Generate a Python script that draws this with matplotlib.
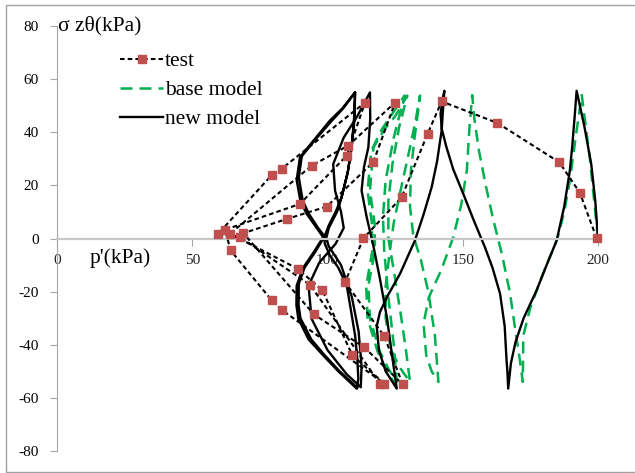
import numpy as np
import matplotlib
matplotlib.use('Agg')
import matplotlib.pyplot as plt
from matplotlib.patches import Rectangle

plt.rcParams['font.family'] = ['Liberation Serif', 'DejaVu Serif']
plt.rcParams['axes.unicode_minus'] = False

# test: p' (kPa) and sigma_z_theta (kPa), in path order
test_p = [199.5, 193.3, 185.7, 162.8, 142.2, 137.0, 127.4, 113.3, 106.5, 121.0, 127.8,
          113.5, 95.0, 68.9, 85.1, 99.7, 116.9, 125.0,
          107.7, 94.1, 64.0, 89.0, 98.1, 109.2, 121.0,
          83.0, 79.4, 64.2, 62.1, 89.8, 107.1, 113.9,
          83.0, 79.4, 59.6, 67.7, 93.5, 119.4]
test_s = [0.1, 17.2, 28.7, 43.5, 51.6, 39.4, 15.5, 0.1, -16.4, -36.8, -54.9,
          -40.9, -28.6, 2.0, 7.4, 12.0, 28.7, 51.2,
          35.0, 27.4, 1.8, -11.4, -19.5, -44.0, -54.6,
          -26.8, -23.3, -4.5, 3.3, 13.0, 31.2, 51.2,
          26.2, 23.9, 1.8, 0.5, -17.4, -54.6]

# base model
base_p = [200, 198.5, 197, 195.5, 194,
          192, 189.6, 187.5, 185, 179, 175, 172.4, 172.2,
          171, 169.5, 167.5, 164.5, 161.3, 158.5, 156, 154.3, 153.5,
          152.5, 151.5, 149.5, 146.5, 142, 137.5, 135.5, 136.5, 138.5, 141,
          139.7, 137.3, 134.5, 131.7, 130.5, 130.8, 132.2, 133.5, 134.2,
          132.5, 130, 127, 124.5, 123, 121.5, 121.5, 123.5, 127, 130.5,
          129, 127, 124.5, 122.5, 122.5, 124, 126.5, 129.5,
          125, 121, 117, 115.7, 117.5, 117.5, 115.1, 115.7, 119.4, 122.5, 125.6,
          124.5, 122.5, 121, 120.5, 121.5, 124.5, 127, 128.5,
          124, 120, 116.2, 114.8, 116.5, 116.5, 114.3, 114.8, 118.5, 121.5, 124.6]
base_s = [0, 15, 30, 42, 54,
          40, 21.8, 10, 0, -15, -26, -36.5, -54,
          -45, -35, -20.7, -6, 7, 20, 33, 45, 54,
          42, 25.6, 13, 0.5, -12, -22, -32, -44, -50, -54,
          -36.5, -20.2, -8, 1.1, 12, 25, 38, 48, 53.8,
          44, 32, 18, 6, -5, -18, -30, -42, -49, -54,
          -42, -28, -12, 0, 14, 28, 42, 53.8,
          46, 41, 34.3, 18, 5, -5, -17.7, -30.2, -42.7, -49, -54,
          -40, -22, -5, 8, 22, 38, 48, 53.8,
          47, 41, 33, 18, 5, -5, -18, -30, -42.5, -49, -54.3]

# new model
new_p = [200, 199, 197.5, 195, 192.1,
         191.3, 190.5, 189.6, 187.5, 184.7, 181, 177.3, 172.5, 169.5, 167.8, 166.8,
         166.5, 166.2, 165.5, 163.8, 161, 158.2, 154, 150.2, 146.5, 144, 142.3, 141.8, 142.5, 143.2,
         142.6, 142.2, 140.5, 138.5, 135.5, 132.3, 126.8, 122, 119.4, 118.2, 119, 121.5, 125.6,
         124, 122, 119.4, 117, 114.5, 112.6, 113.5, 115.1, 115.8, 115.7,
         111, 106, 102.1, 102.8, 105, 106, 103, 97, 93, 94.1, 100, 107, 112.3,
         112.6, 111.5, 109, 105, 100.5, 99.5, 100.5, 103.5, 105.2, 107.5, 108.9, 110, 110.2,
         105.5, 100.9, 94.8, 89.8, 88.6, 90, 92.3, 96, 98.4, 95, 91, 88.6, 88.5, 89.2, 93, 98.4, 104, 110.8,
         111.4, 111, 110.2, 108.5, 107.1, 104, 100.9, 99, 98.8, 100.5, 103, 105.2, 107.5, 108.9, 109.8, 110.2,
         105.8, 101.3, 95.3, 90.5, 89.4, 90.8, 93, 96.5, 98.9, 95.5, 91.5, 89.4, 89.3, 90, 94, 99, 104.5, 111]
new_s = [0, 14, 28, 42, 55.6,
         45, 35, 25.6, 12, -0.8, -10, -19.5, -30, -39, -47, -56.5,
         -50, -45.9, -33, -20.8, -11, -3.3, 7, 16.8, 26, 34.3, 41, 47, 52, 55.6,
         47, 40.6, 29, 19.3, 9, -0.8, -13.3, -22, -27.7, -33, -42, -50, -56.5,
         -45, -30, -15.2, -3, 8, 18, 27, 34.3, 45, 55,
         46, 38, 28, 18, 10, 4, -2, -9, -17.7, -30.2, -42, -51, -56,
         -48, -35, -22, -10, -3, 0, 4, 10, 15.5, 25, 34.3, 45, 55,
         49, 44.4, 36.8, 30.6, 22, 14, 9.3, 4, 0.5, -5, -11, -17.7, -25, -30.2, -38, -44, -50, -56.5,
         -52.7, -45, -36.5, -26, -17.7, -11, -6.4, -2, 0.5, 5, 10, 15.5, 25, 34.3, 45, 55,
         49, 44, 37, 31, 23, 14.5, 9.5, 4, 0.8, -5, -11, -17, -25, -30, -38, -44, -50, -56.2]

x_ticks = [0, 50, 100, 150, 200]
y_ticks = [-80, -60, -40, -20, 0, 20, 40, 60, 80]

W, H = 635, 473
fig = plt.figure(figsize=(W / 100, H / 100), dpi=100)
ax = fig.add_axes([57 / W, 1 - 451 / H, (598 - 57) / W, (451 - 26) / H])

l_base, = ax.plot(base_p, base_s, color='#00B050', lw=1.8, ls=(0, (4.8, 2.8)), zorder=1,
                  label='base model')
l_new, = ax.plot(new_p, new_s, color='black', lw=1.7, zorder=2, label='new model')
l_test, = ax.plot(test_p, test_s, color='black', lw=1.5, ls=(0, (2.2, 1.5)), marker='s',
                  ms=5.5, mfc='#C0504D', mec='#C0504D', zorder=3, clip_on=False, label='test')

ax.set_xlim(0, 200)
ax.set_ylim(-80, 80)
ax.set_xticks(x_ticks)
ax.set_yticks(y_ticks)
ax.spines['top'].set_visible(False)
ax.spines['right'].set_visible(False)
ax.spines['left'].set_position(('data', 0))
ax.spines['bottom'].set_position(('data', 0))
ax.spines['left'].set_color('#A6A6A6')
ax.spines['bottom'].set_color('#C8C8C8')
ax.spines['bottom'].set_linewidth(1.6)
ax.tick_params(axis='y', colors='#A6A6A6', labelcolor='black', length=5, pad=8, labelsize=11)
ax.tick_params(axis='x', colors='#A6A6A6', labelcolor='#222222', length=5, pad=6, labelsize=11)
ax.patch.set_alpha(0)

ax.text(0.5, 80, 'σ zθ(kPa)', fontsize=15.5, va='center', ha='left')
ax.text(12.2, -7.5, "p'(kPa)", fontsize=15.5, va='center', ha='left')

ax.legend(handles=[l_test, l_base, l_new], loc='upper left',
          bbox_to_anchor=(120 / W, 1 - 51 / H), bbox_transform=fig.transFigure,
          frameon=False, fontsize=15.5, handlelength=2.0, handletextpad=0.1,
          borderpad=0, borderaxespad=0, labelspacing=0.42, numpoints=1)

fig.patches.append(Rectangle((6 / W, 1 - 472 / H), 1.0, (472 - 5) / H, fill=False,
                             edgecolor='#A0A0A0', lw=1, transform=fig.transFigure))

fig.savefig('out.png', dpi=100)
